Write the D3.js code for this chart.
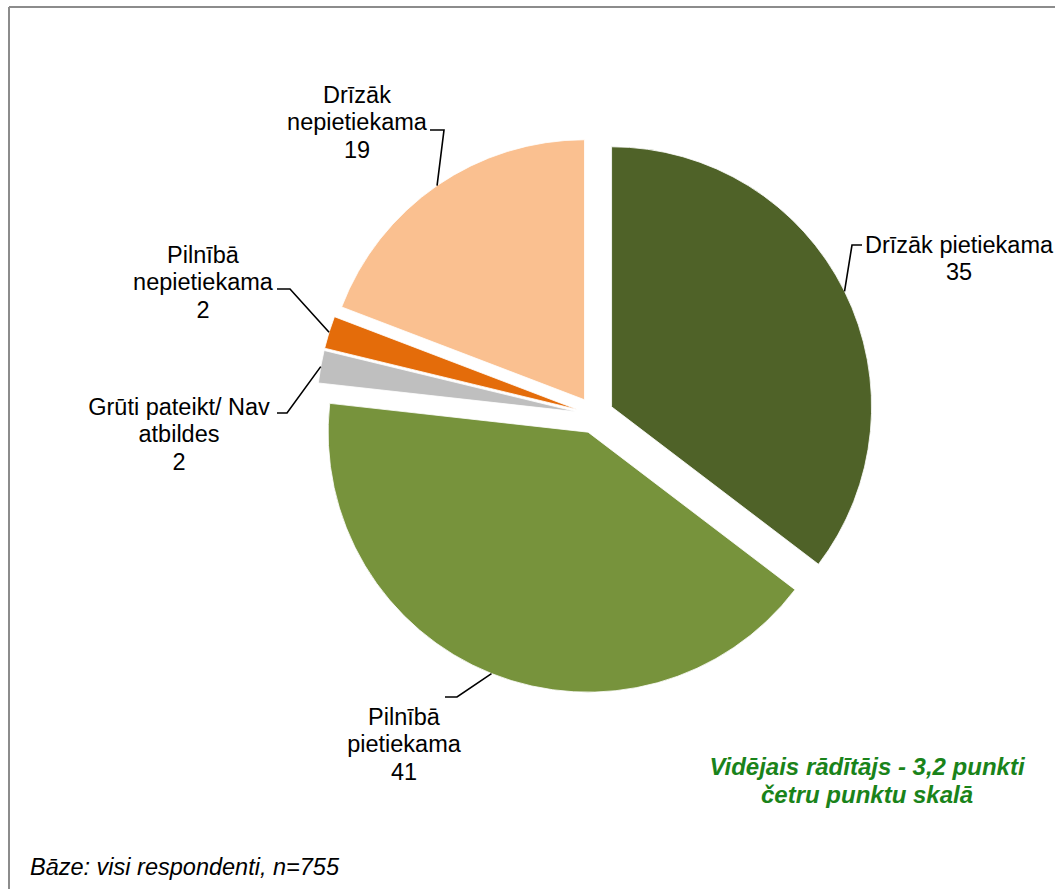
<!DOCTYPE html>
<html>
<head>
<meta charset="utf-8">
<script src="https://cdn.jsdelivr.net/npm/d3@7"></script>
<style>
  html, body { margin: 0; padding: 0; background: #fff; }
  svg { display: block; font-family: "Liberation Sans", Arial, sans-serif; }
</style>
</head>
<body>
<svg id="chart" width="1055" height="889"></svg>
<script>
// Survey answers, clockwise from 12 o'clock
const categories = ["Drīzāk pietiekama", "Pilnībā pietiekama", "Grūti pateikt/ Nav atbildes", "Pilnībā nepietiekama", "Drīzāk nepietiekama"];
const values = [35, 41, 2, 2, 19];
const labelLines = [["Drīzāk pietiekama"], ["Pilnībā", "pietiekama"], ["Grūti pateikt/ Nav", "atbildes"], ["Pilnībā", "nepietiekama"], ["Drīzāk", "nepietiekama"]];
const noteLines = ["Vidējais rādītājs - 3,2 punkti", "četru punktu skalā"];
const baseNote = "Bāze: visi respondenti, n=755";

const sliceColors = ["#4f6228", "#77933c", "#bfbfbf", "#e46c0a", "#fac090"];

// Geometry
const W = 1055, H = 889;
const cx = 595, cy = 415, R = 260, explode = 18.5;
const fontSize = 23.5, lineGap = 27.3;

// Where each data label sits: text centre + first baseline, leader elbow and end
const labelLayout = [
  { tx: 959, ty: 253, elbow: [852, 245], end: [862, 245] },
  { tx: 404, ty: 725, elbow: [457, 697], end: [445, 697] },
  { tx: 179, ty: 415, elbow: [287, 413], end: [277, 413] },
  { tx: 203, ty: 263, elbow: [290, 289], end: [277, 289] },
  { tx: 357, ty: 103, elbow: [444, 130], end: [430, 130] }
];

const svg = d3.select("#chart");

// Frame lines along the top and left edge
svg.append("line").attr("x1", 9).attr("y1", 7).attr("x2", W).attr("y2", 7)
  .attr("stroke", "#8c8c8c").attr("stroke-width", 2);
svg.append("line").attr("x1", 9).attr("y1", 7).attr("x2", 9).attr("y2", H)
  .attr("stroke", "#8c8c8c").attr("stroke-width", 2);

const data = categories.map((c, i) => ({ category: c, value: values[i], index: i }));

const pie = d3.pie().value(d => d.value).sort(null).startAngle(0).endAngle(2 * Math.PI);
const arcs = pie(data);
const arc = d3.arc().innerRadius(0).outerRadius(R);

const color = d3.scaleOrdinal().domain(categories).range(sliceColors);

const midAngle = d => (d.startAngle + d.endAngle) / 2;
const offsetOf = d => {
  const a = midAngle(d);
  return [explode * Math.sin(a), -explode * Math.cos(a)];
};

const g = svg.append("g").attr("transform", `translate(${cx},${cy})`);

g.selectAll("path.slice")
  .data(arcs)
  .join("path")
  .attr("class", "slice")
  .attr("d", arc)
  .attr("fill", d => color(d.data.category))
  .attr("stroke", "#ffffff")
  .attr("stroke-width", 0.8)
  .attr("transform", d => {
    const [ox, oy] = offsetOf(d);
    return `translate(${ox},${oy})`;
  });

// Leader lines: from the arc at the slice's mid-angle to an elbow, then a short horizontal run
arcs.forEach((d, i) => {
  const L = labelLayout[i];
  const a = midAngle(d);
  const [ox, oy] = offsetOf(d);
  const sx = cx + ox + R * Math.sin(a);
  const sy = cy + oy - R * Math.cos(a);
  svg.append("path")
    .attr("d", d3.line()([[sx, sy], L.elbow, L.end]))
    .attr("fill", "none")
    .attr("stroke", "#000")
    .attr("stroke-width", 1.6);

  const lines = labelLines[i].concat([String(d.data.value)]);
  const t = svg.append("text")
    .attr("text-anchor", "middle")
    .attr("font-size", fontSize)
    .attr("fill", "#000");
  lines.forEach((ln, k) => {
    t.append("tspan").attr("x", L.tx).attr("y", L.ty + k * lineGap).text(ln);
  });
});

// Average score note
const note = svg.append("text")
  .attr("text-anchor", "middle")
  .attr("font-size", 24)
  .attr("font-weight", "bold")
  .attr("font-style", "italic")
  .attr("fill", "#1a831a");
noteLines.forEach((ln, k) => {
  note.append("tspan").attr("x", 867).attr("y", 775 + k * 28).text(ln);
});

// Base note
svg.append("text")
  .attr("x", 30).attr("y", 875)
  .attr("font-size", 23.5)
  .attr("font-style", "italic")
  .attr("fill", "#000")
  .text(baseNote);
</script>
</body>
</html>
